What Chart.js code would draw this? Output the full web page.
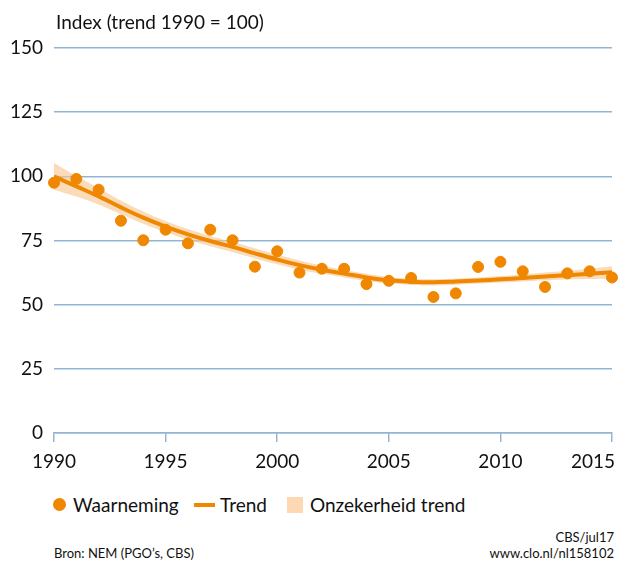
<!DOCTYPE html>
<html>
<head>
<meta charset="utf-8">
<script src="https://cdn.jsdelivr.net/npm/chart.js@4"></script>
<style>
  body { margin: 0; background: #fff; font-family: Lato, "Open Sans", sans-serif; color: #111; }
  #wrap { position: relative; width: 619px; height: 563px; }
  #chart { position: absolute; left: 0; top: 0; }
  .txt { position: absolute; white-space: nowrap; }
  #title { left: 56px; top: 10px; font-size: 19px; }
  .leg { font-size: 19px; top: 493px; }
  .foot { font-size: 13px; }
</style>
</head>
<body>
<div id="wrap">
  <canvas id="chart" width="619" height="480"></canvas>
  <div class="txt" id="title">Index (trend 1990 = 100)</div>
  <div class="txt" style="left:53px;top:498px;width:13px;height:13px;border-radius:50%;background:#ef8700"></div>
  <div class="txt leg" style="left:73px">Waarneming</div>
  <div class="txt" style="left:194px;top:503px;width:21px;height:4px;background:#ef8700"></div>
  <div class="txt leg" style="left:220px">Trend</div>
  <div class="txt" style="left:287px;top:497px;width:16px;height:16px;background:#fdd9b3"></div>
  <div class="txt leg" style="left:310px">Onzekerheid trend</div>
  <div class="txt foot" style="left:54px;top:545px">Bron: NEM (PGO’s, CBS)</div>
  <div class="txt foot" style="right:5px;top:529px;text-align:right">CBS/jul17<br>www.clo.nl/nl158102</div>
</div>
<script>
const years = [1990,1991,1992,1993,1994,1995,1996,1997,1998,1999,2000,2001,2002,
  2003,2004,2005,2006,2007,2008,2009,2010,2011,2012,2013,2014,2015];
// waarneming (observed index)
const observed = [97.5,99,94.8,82.7,75.1,79.2,73.9,79.2,75.1,64.8,70.8,62.5,64,
  64,58,59.3,60.4,53,54.4,64.7,66.7,63,56.9,62.2,63,60.6];
// trend
const trend = [100,96.1,92.2,87.9,83.9,80.4,77.4,74.8,72.5,70,67.6,65.4,63.6,
  62.1,60.6,59.5,58.9,58.7,59,59.4,59.9,60.4,61,61.5,62,62.6];
// half width of the uncertainty band
const bandHalf = [5.2,4,3.2,2.7,2.4,2.2,2.1,2,2,2,1.9,1.8,1.6,1.5,1.4,1.3,1.2,
  1.2,1.2,1.2,1.3,1.4,1.5,1.7,2,2.4];
const xTicks = [1990,1995,2000,2005,2010,2015];

const orange = '#ef8700';
const gridBlue = '#94b5d2';

const pts = (vals) => years.map((y, i) => ({ x: y, y: vals[i] }));
const upper = pts(trend.map((v, i) => v + bandHalf[i]));
const lower = pts(trend.map((v, i) => v - bandHalf[i]));

// x labels drawn by hand so the last one stays inside the canvas
const xLabelPlugin = {
  id: 'xLabels',
  afterDraw(chart) {
    const sc = chart.scales.x;
    const ctx = chart.ctx;
    ctx.save();
    ctx.font = '19px Lato, "Open Sans", sans-serif';
    ctx.fillStyle = '#111';
    ctx.textBaseline = 'middle';
    xTicks.forEach(t => {
      const s = String(t);
      const w = ctx.measureText(s).width;
      let left = sc.getPixelForValue(t) - w / 2;
      left = Math.min(left, chart.width - 4 - w);
      ctx.fillText(s, left, 462);
    });
    ctx.restore();
  }
};

new Chart(document.getElementById('chart'), {
  type: 'line',
  data: {
    datasets: [
      { type: 'scatter', label: 'Waarneming', data: pts(observed), backgroundColor: orange,
        borderColor: orange, pointRadius: 5.5, pointHoverRadius: 5.5, clip: false },
      { label: 'Trend', data: pts(trend), borderColor: orange, borderWidth: 4,
        pointRadius: 0, tension: 0.4, fill: false },
      { label: 'upper', data: upper, borderColor: 'rgba(0,0,0,0)', borderWidth: 0,
        pointRadius: 0, tension: 0.4, fill: '+1', backgroundColor: 'rgba(249,196,140,0.6)' },
      { label: 'lower', data: lower, borderColor: 'rgba(0,0,0,0)', borderWidth: 0,
        pointRadius: 0, tension: 0.4, fill: false }
    ]
  },
  options: {
    responsive: false,
    animation: false,
    devicePixelRatio: 1,
    layout: { padding: { top: 48, right: 7, left: 0, bottom: 0 } },
    plugins: { legend: { display: false }, tooltip: { enabled: false }, title: { display: false } },
    scales: {
      x: {
        type: 'linear', min: 1990, max: 2015,
        afterBuildTicks: (s) => { s.ticks = xTicks.map(v => ({ value: v })); },
        afterFit: (s) => { s.height = 47; s.paddingLeft = 0; s.paddingRight = 0; },
        ticks: { display: false },
        grid: { drawOnChartArea: false, drawTicks: true, tickLength: 9, color: gridBlue, lineWidth: 1.5 },
        border: { display: true, color: gridBlue, width: 1.5 }
      },
      y: {
        min: 0, max: 150,
        afterFit: (s) => { s.width = 54; s.paddingTop = 0; s.paddingBottom = 0; },
        ticks: { stepSize: 25, padding: 11, color: '#111', font: { family: 'Lato', size: 19 } },
        grid: { drawTicks: false, color: gridBlue, lineWidth: 1.5 },
        border: { display: false }
      }
    }
  },
  plugins: [xLabelPlugin]
});
</script>
</body>
</html>
